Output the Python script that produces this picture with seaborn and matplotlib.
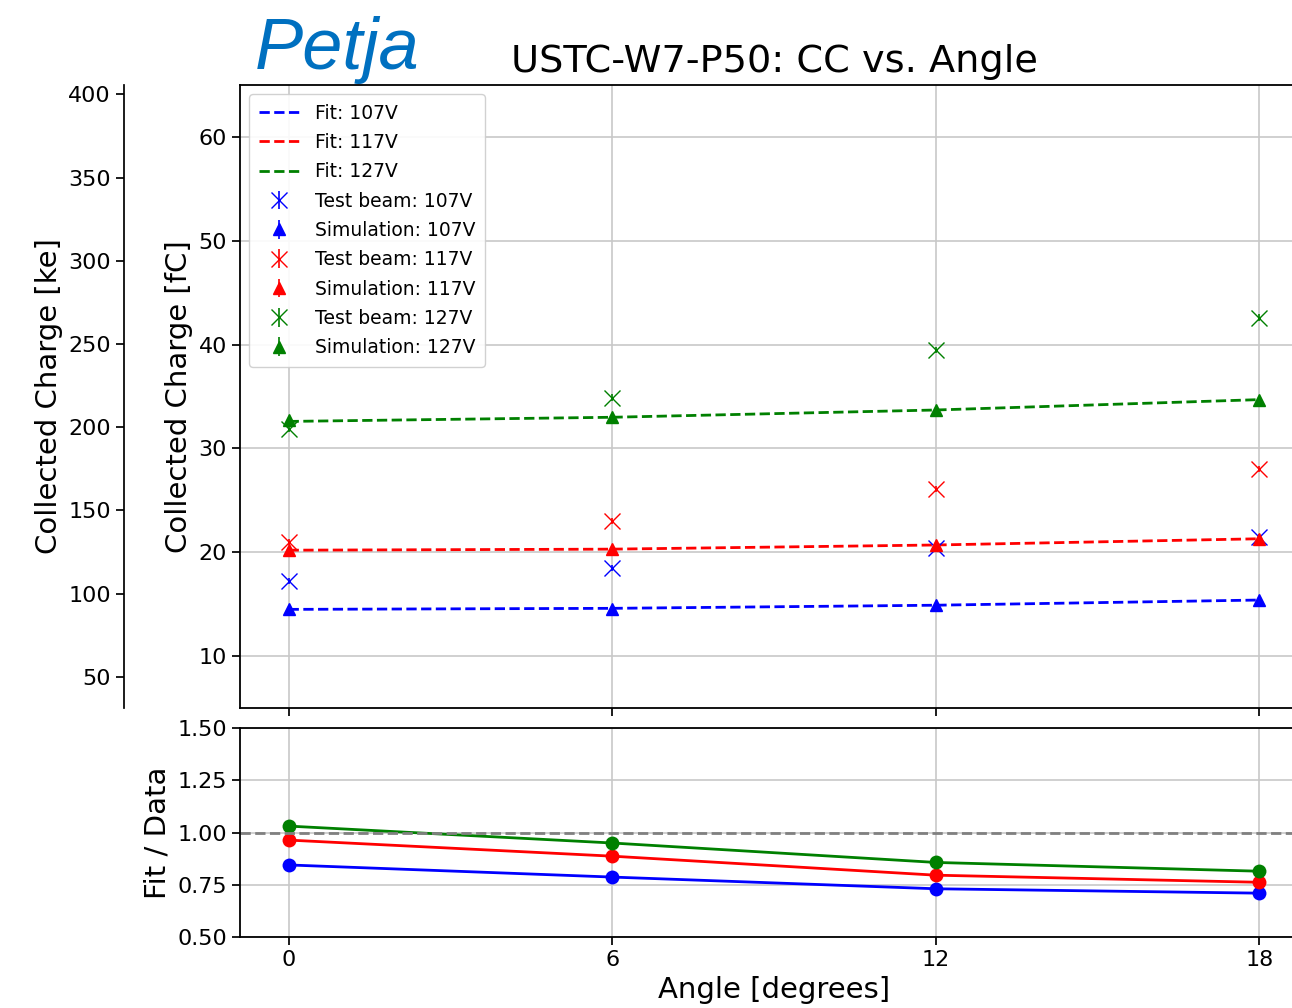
import numpy as np
import pandas as pd
import seaborn as sns
import matplotlib
matplotlib.use("Agg")
import matplotlib.pyplot as plt

# Data
angles = [0, 6, 12, 18]
voltages = ["107V", "117V", "127V"]
colors = ["blue", "red", "green"]

test_beam = {
    "107V": [17.2, 18.5, 20.4, 21.5],
    "117V": [21.0, 23.0, 26.1, 28.0],
    "127V": [31.9, 34.9, 39.5, 42.6],
}
simulation = {
    "107V": [14.5, 14.5, 14.9, 15.4],
    "117V": [20.2, 20.3, 20.7, 21.3],
    "127V": [32.7, 33.0, 33.7, 34.7],
}
fit = {
    "107V": [14.5, 14.6, 14.9, 15.4],
    "117V": [20.2, 20.3, 20.7, 21.3],
    "127V": [32.6, 33.0, 33.7, 34.7],
}
ratio = {
    "107V": [0.845, 0.787, 0.731, 0.710],
    "117V": [0.964, 0.887, 0.796, 0.762],
    "127V": [1.031, 0.950, 0.857, 0.815],
}

FC_TO_KE = 6.2415

sns.set_theme(style="ticks")
plt.rcParams['font.family'] = ['DejaVu Sans']
plt.rcParams.update({"text.color": "black", "axes.labelcolor": "black",
                     "xtick.color": "black", "ytick.color": "black",
                     "axes.edgecolor": "black"})

fig = plt.figure(figsize=(12.92, 10.08), dpi=100)
ax = fig.add_axes([0.1858, 0.2976, 0.8266, 0.6181])
axr = fig.add_axes([0.1858, 0.0704, 0.8266, 0.2073], sharex=ax)

# Fit lines
for v, c in zip(voltages, colors):
    df = pd.DataFrame({"angle": angles, "cc": fit[v]})
    sns.lineplot(data=df, x="angle", y="cc", ax=ax, color=c, linestyle="--",
                 linewidth=2, label="Fit: " + v)

# Points
for v, c in zip(voltages, colors):
    ax.errorbar(angles, test_beam[v], yerr=0.3, fmt="x", color=c, markersize=11,
                elinewidth=1.2, label="Test beam: " + v)
    ax.errorbar(angles, simulation[v], yerr=0.3, fmt="^", color=c, markersize=9,
                elinewidth=1.2, label="Simulation: " + v)

ax.set_ylim(5, 65)
ax.set_yticks([10, 20, 30, 40, 50, 60])
ax.set_ylabel("Collected Charge [fC]", fontsize=21)
ax.set_xlabel("")
ax.grid(True, color="#c8c8c8", linewidth=1.2)
ax.tick_params(axis="both", labelsize=16, length=6)
ax.tick_params(axis="x", labelbottom=False)
ax.set_title("USTC-W7-P50: CC vs. Angle", fontsize=27.5, x=0.5, y=1.0, pad=9)
ax.legend(loc="upper left", fontsize=13.5, framealpha=0.9,
          borderpad=0.5, labelspacing=0.55, handlelength=2.2)

sec = ax.secondary_yaxis(-0.1086, functions=(lambda x: x * FC_TO_KE,
                                             lambda x: x / FC_TO_KE))
sec.set_yticks([50, 100, 150, 200, 250, 300, 350, 400])
sec.set_ylabel("Collected Charge [ke]", fontsize=21)
sec.tick_params(labelsize=16, length=6)

# Ratio panel
for v, c in zip(voltages, colors):
    df = pd.DataFrame({"angle": angles, "r": ratio[v]})
    sns.lineplot(data=df, x="angle", y="r", ax=axr, color=c, marker="o",
                 markersize=10, markeredgewidth=0, linewidth=2)
axr.axhline(1.0, color="gray", linestyle="--", linewidth=2)
axr.set_ylim(0.5, 1.5)
axr.set_yticks([0.5, 0.75, 1.0, 1.25, 1.5])
axr.set_yticklabels(["0.50", "0.75", "1.00", "1.25", "1.50"])
axr.set_xlim(-0.9, 18.9)
axr.set_xticks(angles)
axr.set_ylabel("Fit / Data", fontsize=21)
axr.set_xlabel("Angle [degrees]", fontsize=21)
axr.grid(True, color="#c8c8c8", linewidth=1.2)
axr.tick_params(axis="both", labelsize=16, length=6)

for a in (ax, axr):
    for s in a.spines.values():
        s.set_linewidth(1.3)

fig.text(0.197, 0.932, "Petja", fontsize=52, style="italic", color="#0070C0",
         family="Liberation Sans")

fig.savefig("out.png", dpi=100)
